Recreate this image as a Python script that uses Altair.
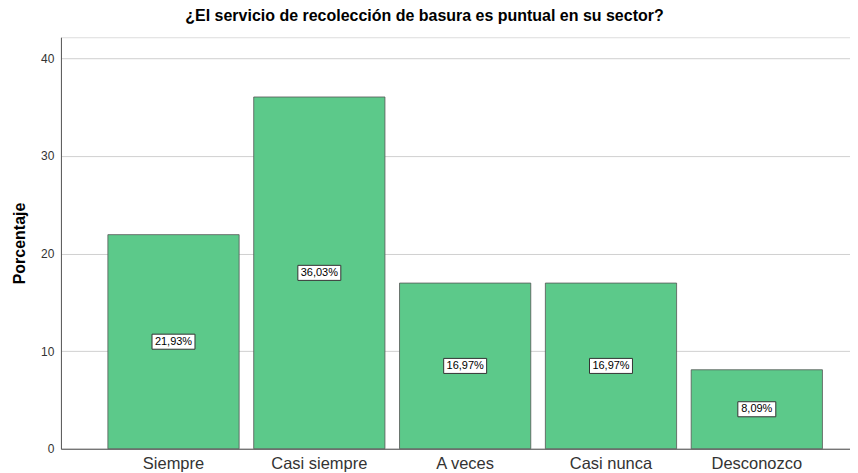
import altair as alt
import pandas as pd

categories = ["Siempre", "Casi siempre", "A veces", "Casi nunca", "Desconozco"]
values = [21.93, 36.03, 16.97, 16.97, 8.09]
labels = ["21,93%", "36,03%", "16,97%", "16,97%", "8,09%"]
box_widths = [43, 43, 43, 43, 38]

df = pd.DataFrame({"cat": categories, "val": values, "lab": labels, "bw": box_widths})

FONT = "Liberation Sans"
x_enc = alt.X("cat:N", sort=categories, title=None,
              scale=alt.Scale(paddingInner=0.1, paddingOuter=0.2555, align=0.63),
              axis=alt.Axis(labelFontSize=16.5, labelColor="#333333", labelAngle=0,
                            labelFont=FONT, ticks=False, domainColor="#555555",
                            labelPadding=7, grid=False))
y_scale = alt.Scale(domain=[0, 42.15], nice=False)

bars = alt.Chart(df).mark_bar(color="#5CC98A", stroke="#555555", strokeWidth=0.8).encode(
    x=x_enc,
    y=alt.Y("val:Q", scale=y_scale, title="Porcentaje",
            axis=alt.Axis(values=[0, 10, 20, 30, 40], labelFontSize=12, labelColor="#333333",
                          labelFont=FONT, ticks=False, domainColor="#555555",
                          gridColor="#d0d0d0", titleFont=FONT, titleFontSize=16,
                          titleFontWeight="bold", titleColor="#000000", titlePadding=13,
                          labelPadding=7)),
)

boxes = alt.Chart(df).transform_calculate(
    lo="datum.val/2 - 0.77", hi="datum.val/2 + 0.77"
).mark_bar(color="white", stroke="#333333", strokeWidth=1).encode(
    x=alt.X("cat:N", sort=categories),
    y=alt.Y("lo:Q", scale=y_scale),
    y2="hi:Q",
    size=alt.Size("bw:Q", scale=None, legend=None),
)

texts = alt.Chart(df).transform_calculate(mid="datum.val/2").mark_text(
    font=FONT, fontSize=11, color="#000000"
).encode(
    x=alt.X("cat:N", sort=categories),
    y=alt.Y("mid:Q", scale=y_scale),
    text="lab:N",
)

chart = alt.layer(bars, boxes, texts).properties(
    width=790, height=412,
    title=alt.TitleParams("¿El servicio de recolección de basura es puntual en su sector?",
                          font=FONT, fontSize=16, fontWeight="bold", color="#000000",
                          anchor="middle", dx=-31, offset=13),
).configure_view(stroke=None).configure(padding={"left": 3, "top": 0, "right": 0, "bottom": 0})

chart.save("out.html", embed_options={"renderer": "svg", "actions": False})
